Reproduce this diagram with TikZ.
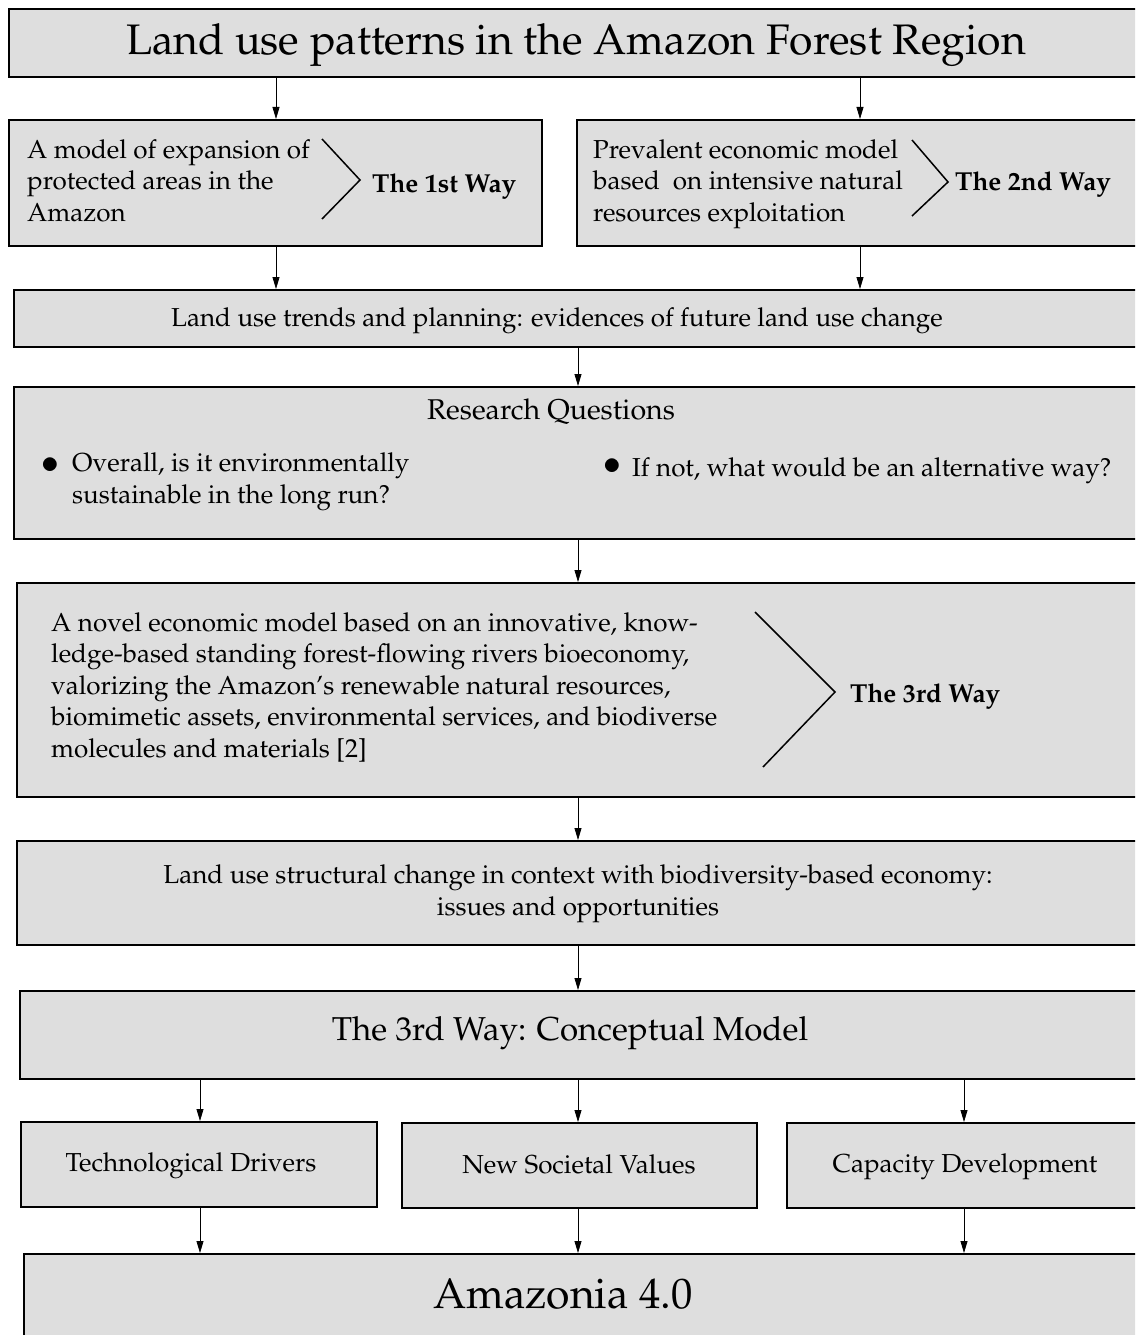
\documentclass[tikz,border=0pt]{standalone}
\usepackage[T1]{fontenc}
\usepackage{mathpazo}
\usetikzlibrary{arrows.meta}
\definecolor{boxgray}{HTML}{DEDEDE}
\tikzset{
  box/.style={draw=black, line width=1.8pt, fill=boxgray, inner sep=0pt, anchor=north west},
  arr/.style={-{Triangle[length=12pt,width=7pt]}, line width=0.8pt},
  chev/.style={line width=1.5pt},
  txt/.style={inner sep=0pt, font=\fontsize{26}{31.5}\selectfont, align=left, anchor=base west},
  ctxt/.style={inner sep=0pt, font=\fontsize{26}{31.5}\selectfont, align=center, anchor=base},
  bigtxt/.style={inner sep=0pt, font=\fontsize{42.7}{48}\selectfont, anchor=base},
  midtxt/.style={inner sep=0pt, font=\fontsize{33.1}{40}\selectfont, anchor=base},
  rqtxt/.style={inner sep=0pt, font=\fontsize{28.6}{34}\selectfont, anchor=base},
  waytxt/.style={inner sep=0pt, font=\fontsize{26}{31.5}\selectfont\bfseries, anchor=base west},
  bul/.style={inner sep=0pt, font=\fontsize{34}{34}\selectfont, anchor=center}
}
\begin{document}
\begin{tikzpicture}[x=1pt,y=-1pt]
\useasboundingbox (0,0) rectangle (1135,1335);
\clip (0,0) rectangle (1135,1335);
\fill[white] (0,0) rectangle (1135,1335);

% x positions of connectors
\coordinate (xa) at (276,0);
\coordinate (xb) at (860,0);
\coordinate (xc) at (578,0);
\coordinate (xd) at (200,0);
\coordinate (xe) at (964,0);

% boxes
\node[box, minimum width=1150pt, minimum height=68pt] (title) at (8,8) {};
\node[box, minimum width=533pt, minimum height=126pt] (b2l) at (8,119) {};
\node[box, minimum width=600pt, minimum height=126pt] (b2r) at (576,119) {};
\node[box, minimum width=1150pt, minimum height=57pt] (b3) at (13,289) {};
\node[box, minimum width=1150pt, minimum height=152pt] (rq) at (13,386) {};
\node[box, minimum width=1150pt, minimum height=214pt] (b5) at (16,582) {};
\node[box, minimum width=1150pt, minimum height=104pt] (b6) at (16,840) {};
\node[box, minimum width=1150pt, minimum height=88pt] (b7) at (19,990) {};
\node[box, minimum width=356pt, minimum height=85pt] (s1) at (20,1121) {};
\node[box, minimum width=355pt, minimum height=85pt] (s2) at (401,1122) {};
\node[box, minimum width=400pt, minimum height=85pt] (s3) at (786,1122) {};
\node[box, minimum width=1150pt, minimum height=120pt] (a4) at (23,1253) {};

% texts (multi-line nodes are placed by the baseline of their last line)
\node[bigtxt] (tTitle) at (576,55) {Land use patterns in the Amazon Forest Region};

\node[txt] (t2l) at (27,221) {A model of expansion of\\protected areas in the\\Amazon};
\draw[chev] (322,139) -- (360,180) -- (322,219);
\node[waytxt] (w1) at (372,192) {The 1st Way};

\node[txt] (t2r) at (593,221) {Prevalent economic model\\based\ \ on intensive natural\\resources exploitation};
\draw[chev] (912,140) -- (948,182) -- (912,216);
\node[waytxt] (w2) at (955,190) {The 2nd Way};

\node[ctxt] (t3) at (557,326) {Land use trends and planning: evidences of future land use change};

\node[rqtxt] (tRQ) at (551,419) {Research Questions};
\node[bul] (bu1) at (50,466) {$\bullet$};
\node[txt] (q1) at (72,503) {Overall, is it environmentally\\sustainable in the long run?};
\node[bul] (bu2) at (612,467) {$\bullet$};
\node[txt] (q2) at (632,476) {If not, what would be an alternative way?};

\node[txt] (t5) at (51,757) {A novel economic model based on an innovative, know-\\ledge-based standing forest-flowing rivers bioeconomy,\\valorizing the Amazon's renewable natural resources,\\biomimetic assets, environmental services, and biodiverse\\molecules and materials [2]};
\draw[chev] (755,612) -- (835,692) -- (763,767);
\node[waytxt] (w3) at (850,702) {The 3rd Way};

\node[ctxt] (t6) at (578,915) {Land use structural change in context with biodiversity-based economy:\\issues and opportunities};

\node[midtxt] (t7) at (570,1040) {The 3rd Way: Conceptual Model};

\node[ctxt] (ts1) at (191,1171) {Technological Drivers};
\node[ctxt] (ts2) at (579,1173) {New Societal Values};
\node[ctxt] (ts3) at (965,1172) {Capacity Development};

\node[bigtxt] (ta4) at (563,1308) {Amazonia 4.0};

% connectors
\draw[arr] (title.south -| xa) -- (b2l.north -| xa);
\draw[arr] (title.south -| xb) -- (b2r.north -| xb);
\draw[arr] (b2l.south -| xa) -- (b3.north -| xa);
\draw[arr] (b2r.south -| xb) -- (b3.north -| xb);
\draw[arr] (b3.south -| xc) -- (rq.north -| xc);
\draw[arr] (rq.south -| xc) -- (b5.north -| xc);
\draw[arr] (b5.south -| xc) -- (b6.north -| xc);
\draw[arr] (b6.south -| xc) -- (b7.north -| xc);
\draw[arr] (b7.south -| xd) -- (s1.north -| xd);
\draw[arr] (b7.south -| xc) -- (s2.north -| xc);
\draw[arr] (b7.south -| xe) -- (s3.north -| xe);
\draw[arr] (s1.south -| xd) -- (a4.north -| xd);
\draw[arr] (s2.south -| xc) -- (a4.north -| xc);
\draw[arr] (s3.south -| xe) -- (a4.north -| xe);
\end{tikzpicture}
\end{document}
